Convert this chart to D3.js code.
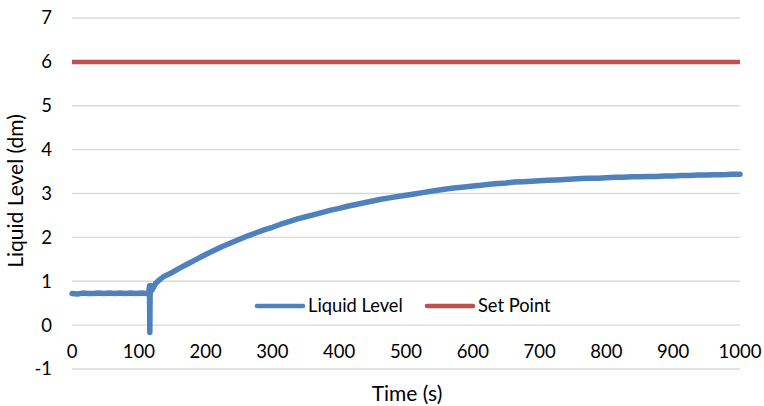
<!DOCTYPE html>
<html>
<head>
<meta charset="utf-8">
<script src="https://cdn.jsdelivr.net/npm/d3@7"></script>
<style>
  html, body { margin: 0; padding: 0; background: #fff; }
  svg { display: block; }
  text { font-family: Lato, "Open Sans", sans-serif; fill: #000; }
</style>
</head>
<body>
<svg id="chart" width="764" height="406"></svg>
<script>
// Tank level response (s, dm)
const timeValues = [
  0, 8, 16, 24, 32, 40, 48, 56, 64, 72, 80, 88, 96, 104, 112, 115,
  116, 116.5, 117, 118, 119, 120, 122, 125, 130, 137.5,
  150, 162.5, 175, 187.5, 200, 212.5, 225, 237.5, 250, 262.5, 275, 287.5,
  300, 312.5, 325, 337.5, 350, 362.5, 375, 387.5, 400, 412.5, 425, 437.5,
  450, 462.5, 475, 487.5, 500, 512.5, 525, 537.5, 550, 562.5, 575, 587.5,
  600, 612.5, 625, 637.5, 650, 662.5, 675, 687.5, 700, 712.5, 725, 737.5,
  750, 762.5, 775, 787.5, 800, 812.5, 825, 837.5, 850, 862.5, 875, 887.5,
  900, 912.5, 925, 937.5, 950, 962.5, 975, 987.5, 1000
];
const liquidLevel = [
  0.72, 0.71, 0.73, 0.72, 0.72, 0.73, 0.72, 0.73, 0.72, 0.73, 0.72, 0.73, 0.72, 0.73, 0.72, 0.73,
  0.90, -0.17, 0.86, 0.76, 0.90, 0.80, 0.86, 0.95, 1.02, 1.11,
  1.20, 1.31, 1.41, 1.51, 1.61, 1.70, 1.79, 1.87, 1.95, 2.03, 2.10, 2.17,
  2.23, 2.30, 2.36, 2.42, 2.47, 2.52, 2.57, 2.62, 2.66, 2.71, 2.75, 2.79,
  2.83, 2.87, 2.90, 2.93, 2.96, 2.99, 3.02, 3.05, 3.08, 3.11, 3.13, 3.15,
  3.17, 3.19, 3.21, 3.23, 3.24, 3.26, 3.27, 3.28, 3.29, 3.30, 3.31, 3.32,
  3.33, 3.34, 3.35, 3.35, 3.36, 3.37, 3.37, 3.38, 3.38, 3.39, 3.39, 3.40,
  3.40, 3.41, 3.41, 3.42, 3.42, 3.43, 3.43, 3.44, 3.44
];
const setPointTimes = [0, 1000];
const setPointValues = [6, 6];

const xTicks = [0, 100, 200, 300, 400, 500, 600, 700, 800, 900, 1000];
const yTicks = [-1, 0, 1, 2, 3, 4, 5, 6, 7];
const seriesNames = ["Liquid Level", "Set Point"];
const xTitle = "Time (s)";
const yTitle = "Liquid Level (dm)";

const svg = d3.select("#chart");
const x = d3.scaleLinear().domain([0, 1000]).range([72, 740]);
const y = d3.scaleLinear().domain([-1, 7]).range([369, 18]);

// horizontal gridlines
svg.append("g")
  .selectAll("line")
  .data(yTicks)
  .join("line")
  .attr("x1", x(0)).attr("x2", x(1000))
  .attr("y1", d => y(d)).attr("y2", d => y(d))
  .attr("stroke", "#d9d9d9")
  .attr("stroke-width", 1.3);

// y tick labels
svg.append("g")
  .selectAll("text")
  .data(yTicks)
  .join("text")
  .attr("x", 52)
  .attr("y", d => y(d))
  .attr("dy", "0.35em")
  .attr("text-anchor", "end")
  .attr("font-size", 18.5)
  .text(d => d);

// x tick labels, sitting just under the zero line
svg.append("g")
  .selectAll("text")
  .data(xTicks)
  .join("text")
  .attr("x", d => x(d))
  .attr("y", 352)
  .attr("dy", "0.35em")
  .attr("text-anchor", "middle")
  .attr("font-size", 18.5)
  .text(d => d);

// axis titles
svg.append("text")
  .attr("x", 407).attr("y", 394).attr("dy", "0.35em")
  .attr("text-anchor", "middle")
  .attr("font-size", 21)
  .text(xTitle);
svg.append("text")
  .attr("transform", `translate(16,191) rotate(-90)`)
  .attr("dy", "0.35em")
  .attr("text-anchor", "middle")
  .attr("font-size", 21)
  .text(yTitle);

const line = d3.line().x(d => x(d[0])).y(d => y(d[1]));

// set point
svg.append("path")
  .datum(d3.zip(setPointTimes, setPointValues))
  .attr("d", line)
  .attr("fill", "none")
  .attr("stroke", "#c0504d")
  .attr("stroke-width", 4.5);

// measured level
svg.append("path")
  .datum(d3.zip(timeValues, liquidLevel))
  .attr("d", line)
  .attr("fill", "none")
  .attr("stroke", "#4f81bd")
  .attr("stroke-width", 5.5)
  .attr("stroke-linejoin", "round")
  .attr("stroke-linecap", "round");

// legend
const legend = svg.append("g");
const legendItems = [
  { name: seriesNames[0], color: "#4f81bd", x0: 257 },
  { name: seriesNames[1], color: "#c0504d", x0: 427 }
];
legendItems.forEach(it => {
  legend.append("line")
    .attr("x1", it.x0).attr("x2", it.x0 + 46)
    .attr("y1", 306).attr("y2", 306)
    .attr("stroke", it.color)
    .attr("stroke-width", 4.5)
    .attr("stroke-linecap", "round");
  legend.append("text")
    .attr("x", it.x0 + 51).attr("y", 306).attr("dy", "0.35em")
    .attr("font-size", 18.3)
    .text(it.name);
});
</script>
</body>
</html>
